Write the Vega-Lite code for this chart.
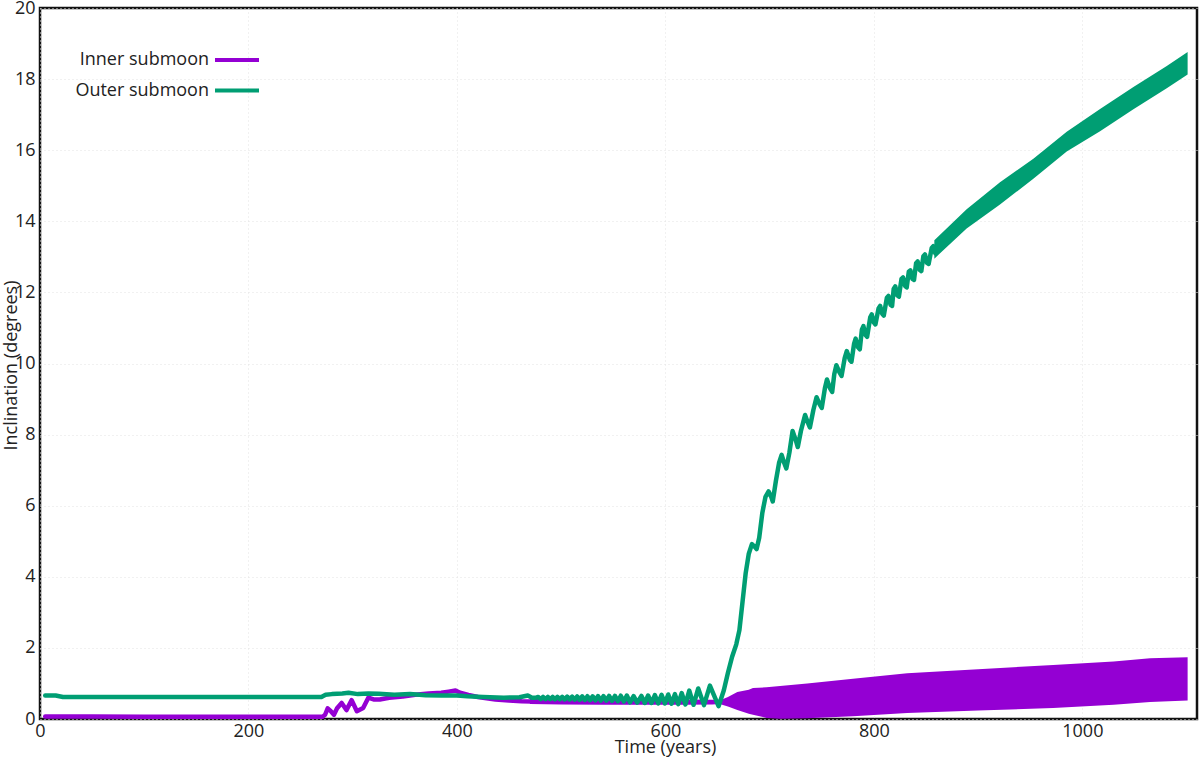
{
  "$schema": "https://vega.github.io/schema/vega-lite/v6.json",
  "width": 1157,
  "height": 711,
  "autosize": {"type": "none"},
  "padding": {"left": 40, "top": 8, "right": 3, "bottom": 42},
  "background": "white",
  "config": {
    "view": {"stroke": "#111111", "strokeWidth": 2.5},
    "font": "Open Sans",
    "axis": {
      "domain": false,
      "ticks": false,
      "grid": true,
      "gridColor": "#e2e2e2",
      "gridDash": [1, 3],
      "gridWidth": 1,
      "labelFont": "Open Sans",
      "labelFontSize": 18,
      "labelColor": "#222222",
      "titleFont": "Open Sans",
      "titleFontSize": 18,
      "titleColor": "#222222",
      "titleFontWeight": "normal"
    },
    "legend": {
      "title": null,
      "orient": "none",
      "legendX": 185,
      "legendY": 40,
      "padding": 0,
      "symbolType": "M-2.2,0L2.2,0",
      "symbolSize": 400,
      "symbolStrokeWidth": 4,
      "labelAlign": "right",
      "labelOffset": -40,
      "labelFont": "Open Sans",
      "labelFontSize": 18,
      "labelColor": "#222222",
      "labelLimit": 300,
      "rowPadding": 9.5
    }
  },
  "datasets": {
    "bands": [
      {"s": "Inner submoon", "t": 470, "lo": 0.42, "hi": 0.58},
      {"s": "Inner submoon", "t": 500, "lo": 0.41, "hi": 0.57},
      {"s": "Inner submoon", "t": 540, "lo": 0.40, "hi": 0.56},
      {"s": "Inner submoon", "t": 580, "lo": 0.40, "hi": 0.55},
      {"s": "Inner submoon", "t": 620, "lo": 0.40, "hi": 0.55},
      {"s": "Inner submoon", "t": 645, "lo": 0.41, "hi": 0.54},
      {"s": "Inner submoon", "t": 652, "lo": 0.42, "hi": 0.52},
      {"s": "Inner submoon", "t": 660, "lo": 0.35, "hi": 0.62},
      {"s": "Inner submoon", "t": 669, "lo": 0.25, "hi": 0.76},
      {"s": "Inner submoon", "t": 680, "lo": 0.15, "hi": 0.82},
      {"s": "Inner submoon", "t": 684, "lo": 0.12, "hi": 0.87},
      {"s": "Inner submoon", "t": 697, "lo": 0.03, "hi": 0.89},
      {"s": "Inner submoon", "t": 710, "lo": 0.01, "hi": 0.93},
      {"s": "Inner submoon", "t": 736, "lo": 0.02, "hi": 1.00},
      {"s": "Inner submoon", "t": 780, "lo": 0.08, "hi": 1.13},
      {"s": "Inner submoon", "t": 832, "lo": 0.17, "hi": 1.29},
      {"s": "Inner submoon", "t": 900, "lo": 0.24, "hi": 1.40},
      {"s": "Inner submoon", "t": 972, "lo": 0.31, "hi": 1.52},
      {"s": "Inner submoon", "t": 1030, "lo": 0.40, "hi": 1.62},
      {"s": "Inner submoon", "t": 1065, "lo": 0.48, "hi": 1.71},
      {"s": "Inner submoon", "t": 1101, "lo": 0.52, "hi": 1.74},
      {"s": "Outer submoon", "t": 858, "lo": 12.95, "hi": 13.47},
      {"s": "Outer submoon", "t": 889, "lo": 13.8, "hi": 14.34},
      {"s": "Outer submoon", "t": 921, "lo": 14.47, "hi": 15.1},
      {"s": "Outer submoon", "t": 953, "lo": 15.2, "hi": 15.76},
      {"s": "Outer submoon", "t": 985, "lo": 15.96, "hi": 16.52},
      {"s": "Outer submoon", "t": 1017, "lo": 16.53, "hi": 17.16},
      {"s": "Outer submoon", "t": 1049, "lo": 17.15, "hi": 17.78},
      {"s": "Outer submoon", "t": 1081, "lo": 17.74, "hi": 18.37},
      {"s": "Outer submoon", "t": 1101, "lo": 18.13, "hi": 18.76}
    ],
    "lines": [
      {"s": "Inner submoon", "t": 5, "v": 0.07},
      {"s": "Inner submoon", "t": 50, "v": 0.07},
      {"s": "Inner submoon", "t": 100, "v": 0.065},
      {"s": "Inner submoon", "t": 150, "v": 0.06},
      {"s": "Inner submoon", "t": 200, "v": 0.06},
      {"s": "Inner submoon", "t": 250, "v": 0.06},
      {"s": "Inner submoon", "t": 271, "v": 0.06},
      {"s": "Inner submoon", "t": 273.5, "v": 0.12},
      {"s": "Inner submoon", "t": 276, "v": 0.30},
      {"s": "Inner submoon", "t": 279, "v": 0.22},
      {"s": "Inner submoon", "t": 282, "v": 0.12},
      {"s": "Inner submoon", "t": 285, "v": 0.30},
      {"s": "Inner submoon", "t": 289.4, "v": 0.45},
      {"s": "Inner submoon", "t": 294, "v": 0.25},
      {"s": "Inner submoon", "t": 299, "v": 0.53},
      {"s": "Inner submoon", "t": 304, "v": 0.22},
      {"s": "Inner submoon", "t": 310, "v": 0.31},
      {"s": "Inner submoon", "t": 315, "v": 0.60},
      {"s": "Inner submoon", "t": 320, "v": 0.55},
      {"s": "Inner submoon", "t": 326, "v": 0.55},
      {"s": "Inner submoon", "t": 335, "v": 0.60},
      {"s": "Inner submoon", "t": 348, "v": 0.63},
      {"s": "Inner submoon", "t": 360, "v": 0.68},
      {"s": "Inner submoon", "t": 373, "v": 0.72},
      {"s": "Inner submoon", "t": 385, "v": 0.74},
      {"s": "Inner submoon", "t": 392, "v": 0.77},
      {"s": "Inner submoon", "t": 398.6, "v": 0.80},
      {"s": "Inner submoon", "t": 403, "v": 0.74},
      {"s": "Inner submoon", "t": 411, "v": 0.68},
      {"s": "Inner submoon", "t": 420, "v": 0.62},
      {"s": "Inner submoon", "t": 437, "v": 0.55},
      {"s": "Inner submoon", "t": 450, "v": 0.52},
      {"s": "Inner submoon", "t": 462, "v": 0.50},
      {"s": "Inner submoon", "t": 472, "v": 0.49},
      {"s": "Outer submoon", "t": 5, "v": 0.66},
      {"s": "Outer submoon", "t": 15, "v": 0.66},
      {"s": "Outer submoon", "t": 22, "v": 0.62},
      {"s": "Outer submoon", "t": 100, "v": 0.62},
      {"s": "Outer submoon", "t": 200, "v": 0.62},
      {"s": "Outer submoon", "t": 270, "v": 0.62},
      {"s": "Outer submoon", "t": 274, "v": 0.68},
      {"s": "Outer submoon", "t": 280, "v": 0.70},
      {"s": "Outer submoon", "t": 290, "v": 0.72},
      {"s": "Outer submoon", "t": 296, "v": 0.74},
      {"s": "Outer submoon", "t": 305, "v": 0.70},
      {"s": "Outer submoon", "t": 315, "v": 0.72},
      {"s": "Outer submoon", "t": 325, "v": 0.71},
      {"s": "Outer submoon", "t": 340, "v": 0.68},
      {"s": "Outer submoon", "t": 355, "v": 0.70},
      {"s": "Outer submoon", "t": 370, "v": 0.67},
      {"s": "Outer submoon", "t": 385, "v": 0.66},
      {"s": "Outer submoon", "t": 400, "v": 0.66},
      {"s": "Outer submoon", "t": 410, "v": 0.64},
      {"s": "Outer submoon", "t": 425, "v": 0.62},
      {"s": "Outer submoon", "t": 445, "v": 0.60},
      {"s": "Outer submoon", "t": 460, "v": 0.61},
      {"s": "Outer submoon", "t": 468, "v": 0.66},
      {"s": "Outer submoon", "t": 472, "v": 0.60},
      {"s": "Outer submoon", "t": 476, "v": 0.60},
      {"s": "Outer submoon", "t": 478, "v": 0.62},
      {"s": "Outer submoon", "t": 480.3, "v": 0.56},
      {"s": "Outer submoon", "t": 482.6, "v": 0.62},
      {"s": "Outer submoon", "t": 484.9, "v": 0.56},
      {"s": "Outer submoon", "t": 487.2, "v": 0.62},
      {"s": "Outer submoon", "t": 489.5, "v": 0.56},
      {"s": "Outer submoon", "t": 491.8, "v": 0.62},
      {"s": "Outer submoon", "t": 494.1, "v": 0.555},
      {"s": "Outer submoon", "t": 496.4, "v": 0.625},
      {"s": "Outer submoon", "t": 498.7, "v": 0.555},
      {"s": "Outer submoon", "t": 501, "v": 0.625},
      {"s": "Outer submoon", "t": 503.4, "v": 0.55},
      {"s": "Outer submoon", "t": 505.8, "v": 0.63},
      {"s": "Outer submoon", "t": 508.2, "v": 0.55},
      {"s": "Outer submoon", "t": 510.6, "v": 0.63},
      {"s": "Outer submoon", "t": 513, "v": 0.545},
      {"s": "Outer submoon", "t": 515.4, "v": 0.635},
      {"s": "Outer submoon", "t": 517.8, "v": 0.54},
      {"s": "Outer submoon", "t": 520.2, "v": 0.635},
      {"s": "Outer submoon", "t": 522.7, "v": 0.535},
      {"s": "Outer submoon", "t": 525.2, "v": 0.64},
      {"s": "Outer submoon", "t": 527.7, "v": 0.53},
      {"s": "Outer submoon", "t": 530.2, "v": 0.64},
      {"s": "Outer submoon", "t": 532.8, "v": 0.525},
      {"s": "Outer submoon", "t": 535.4, "v": 0.645},
      {"s": "Outer submoon", "t": 538, "v": 0.52},
      {"s": "Outer submoon", "t": 540.6, "v": 0.645},
      {"s": "Outer submoon", "t": 543.3, "v": 0.515},
      {"s": "Outer submoon", "t": 546, "v": 0.65},
      {"s": "Outer submoon", "t": 548.8, "v": 0.51},
      {"s": "Outer submoon", "t": 551.6, "v": 0.65},
      {"s": "Outer submoon", "t": 554.4, "v": 0.50},
      {"s": "Outer submoon", "t": 557.2, "v": 0.655},
      {"s": "Outer submoon", "t": 560.1, "v": 0.49},
      {"s": "Outer submoon", "t": 563, "v": 0.66},
      {"s": "Outer submoon", "t": 566, "v": 0.47},
      {"s": "Outer submoon", "t": 569.5, "v": 0.645},
      {"s": "Outer submoon", "t": 573, "v": 0.46},
      {"s": "Outer submoon", "t": 577, "v": 0.65},
      {"s": "Outer submoon", "t": 580.2, "v": 0.45},
      {"s": "Outer submoon", "t": 583.4, "v": 0.66},
      {"s": "Outer submoon", "t": 586.6, "v": 0.45},
      {"s": "Outer submoon", "t": 589.9, "v": 0.67},
      {"s": "Outer submoon", "t": 593.1, "v": 0.44},
      {"s": "Outer submoon", "t": 596.3, "v": 0.68},
      {"s": "Outer submoon", "t": 599.5, "v": 0.44},
      {"s": "Outer submoon", "t": 602.7, "v": 0.69},
      {"s": "Outer submoon", "t": 605.9, "v": 0.43},
      {"s": "Outer submoon", "t": 609.1, "v": 0.70},
      {"s": "Outer submoon", "t": 612.3, "v": 0.42},
      {"s": "Outer submoon", "t": 615.6, "v": 0.73},
      {"s": "Outer submoon", "t": 619.2, "v": 0.41},
      {"s": "Outer submoon", "t": 622.9, "v": 0.80},
      {"s": "Outer submoon", "t": 627, "v": 0.40},
      {"s": "Outer submoon", "t": 631.5, "v": 0.86},
      {"s": "Outer submoon", "t": 637, "v": 0.39},
      {"s": "Outer submoon", "t": 642.7, "v": 0.94},
      {"s": "Outer submoon", "t": 651, "v": 0.36},
      {"s": "Outer submoon", "t": 656, "v": 0.80},
      {"s": "Outer submoon", "t": 660, "v": 1.30},
      {"s": "Outer submoon", "t": 664, "v": 1.75},
      {"s": "Outer submoon", "t": 668, "v": 2.10},
      {"s": "Outer submoon", "t": 671, "v": 2.50},
      {"s": "Outer submoon", "t": 674, "v": 3.30},
      {"s": "Outer submoon", "t": 677, "v": 4.10},
      {"s": "Outer submoon", "t": 680, "v": 4.65},
      {"s": "Outer submoon", "t": 683, "v": 4.92},
      {"s": "Outer submoon", "t": 685.5, "v": 4.85},
      {"s": "Outer submoon", "t": 687.5, "v": 4.78},
      {"s": "Outer submoon", "t": 690, "v": 5.10},
      {"s": "Outer submoon", "t": 693, "v": 5.80},
      {"s": "Outer submoon", "t": 696, "v": 6.25},
      {"s": "Outer submoon", "t": 699, "v": 6.40},
      {"s": "Outer submoon", "t": 701.5, "v": 6.25},
      {"s": "Outer submoon", "t": 703, "v": 6.12},
      {"s": "Outer submoon", "t": 706, "v": 6.70},
      {"s": "Outer submoon", "t": 709, "v": 7.20},
      {"s": "Outer submoon", "t": 711.5, "v": 7.43},
      {"s": "Outer submoon", "t": 714, "v": 7.20},
      {"s": "Outer submoon", "t": 716, "v": 7.05},
      {"s": "Outer submoon", "t": 719, "v": 7.50},
      {"s": "Outer submoon", "t": 722, "v": 8.10},
      {"s": "Outer submoon", "t": 725, "v": 7.85},
      {"s": "Outer submoon", "t": 727, "v": 7.65},
      {"s": "Outer submoon", "t": 730, "v": 8.10},
      {"s": "Outer submoon", "t": 734, "v": 8.55},
      {"s": "Outer submoon", "t": 736.5, "v": 8.35},
      {"s": "Outer submoon", "t": 738.6, "v": 8.20},
      {"s": "Outer submoon", "t": 742, "v": 8.70},
      {"s": "Outer submoon", "t": 745, "v": 9.05},
      {"s": "Outer submoon", "t": 748, "v": 8.85},
      {"s": "Outer submoon", "t": 750, "v": 8.75},
      {"s": "Outer submoon", "t": 753, "v": 9.30},
      {"s": "Outer submoon", "t": 755, "v": 9.55},
      {"s": "Outer submoon", "t": 758, "v": 9.30},
      {"s": "Outer submoon", "t": 760, "v": 9.20},
      {"s": "Outer submoon", "t": 762, "v": 9.70},
      {"s": "Outer submoon", "t": 764, "v": 9.95},
      {"s": "Outer submoon", "t": 767, "v": 9.75},
      {"s": "Outer submoon", "t": 769, "v": 9.65},
      {"s": "Outer submoon", "t": 772, "v": 10.15},
      {"s": "Outer submoon", "t": 774, "v": 10.35},
      {"s": "Outer submoon", "t": 777, "v": 10.10},
      {"s": "Outer submoon", "t": 778.5, "v": 10.05},
      {"s": "Outer submoon", "t": 781, "v": 10.55},
      {"s": "Outer submoon", "t": 782.5, "v": 10.70},
      {"s": "Outer submoon", "t": 785, "v": 10.45},
      {"s": "Outer submoon", "t": 786.5, "v": 10.40},
      {"s": "Outer submoon", "t": 788.5, "v": 10.95},
      {"s": "Outer submoon", "t": 790, "v": 11.05},
      {"s": "Outer submoon", "t": 792, "v": 10.80},
      {"s": "Outer submoon", "t": 793.5, "v": 10.75},
      {"s": "Outer submoon", "t": 796.5, "v": 11.30},
      {"s": "Outer submoon", "t": 798, "v": 11.38},
      {"s": "Outer submoon", "t": 800, "v": 11.15},
      {"s": "Outer submoon", "t": 801.5, "v": 11.10},
      {"s": "Outer submoon", "t": 804.5, "v": 11.55},
      {"s": "Outer submoon", "t": 806, "v": 11.62},
      {"s": "Outer submoon", "t": 808, "v": 11.40},
      {"s": "Outer submoon", "t": 809.5, "v": 11.35},
      {"s": "Outer submoon", "t": 812.5, "v": 11.85},
      {"s": "Outer submoon", "t": 814, "v": 11.90},
      {"s": "Outer submoon", "t": 816, "v": 11.65},
      {"s": "Outer submoon", "t": 817.5, "v": 11.62},
      {"s": "Outer submoon", "t": 819, "v": 12.10},
      {"s": "Outer submoon", "t": 820.5, "v": 12.17},
      {"s": "Outer submoon", "t": 822.5, "v": 11.92},
      {"s": "Outer submoon", "t": 824, "v": 11.88},
      {"s": "Outer submoon", "t": 826.5, "v": 12.38},
      {"s": "Outer submoon", "t": 828, "v": 12.42},
      {"s": "Outer submoon", "t": 830, "v": 12.18},
      {"s": "Outer submoon", "t": 831.5, "v": 12.14},
      {"s": "Outer submoon", "t": 833.5, "v": 12.58},
      {"s": "Outer submoon", "t": 835, "v": 12.62},
      {"s": "Outer submoon", "t": 837, "v": 12.38},
      {"s": "Outer submoon", "t": 838.5, "v": 12.35},
      {"s": "Outer submoon", "t": 840.5, "v": 12.82},
      {"s": "Outer submoon", "t": 842, "v": 12.87},
      {"s": "Outer submoon", "t": 844, "v": 12.63},
      {"s": "Outer submoon", "t": 845.5, "v": 12.60},
      {"s": "Outer submoon", "t": 847.5, "v": 13.02},
      {"s": "Outer submoon", "t": 849, "v": 13.07},
      {"s": "Outer submoon", "t": 851, "v": 12.83},
      {"s": "Outer submoon", "t": 852.5, "v": 12.80},
      {"s": "Outer submoon", "t": 855.5, "v": 13.25},
      {"s": "Outer submoon", "t": 857, "v": 13.30},
      {"s": "Outer submoon", "t": 859, "v": 13.10},
      {"s": "Outer submoon", "t": 861, "v": 13.15}
    ]
  },
  "layer": [
    {
      "data": {"name": "bands"},
      "mark": {"type": "area", "opacity": 1},
      "encoding": {
        "x": {
          "field": "t", "type": "quantitative",
          "scale": {"domain": [0, 1110], "nice": false, "zero": false},
          "axis": {
            "title": "Time (years)",
            "values": [0, 200, 400, 600, 800, 1000],
            "format": "d",
            "labelPadding": 3,
            "labelFlush": false,
            "titleX": 625,
            "titleY": 28,
            "titleBaseline": "middle",
            "titleAnchor": "start",
            "titleAlign": "center"
          }
        },
        "y": {
          "field": "lo", "type": "quantitative",
          "scale": {"domain": [0, 20], "nice": false},
          "axis": {
            "title": "Inclination (degrees)",
            "values": [0, 2, 4, 6, 8, 10, 12, 14, 16, 18, 20],
            "labelPadding": 5,
            "labelFlush": false,
            "titleX": -29,
            "titleY": 357,
            "titleAngle": -90,
            "titleBaseline": "middle",
            "titleAlign": "center"
          }
        },
        "y2": {"field": "hi"},
        "color": {
          "field": "s", "type": "nominal",
          "scale": {"domain": ["Inner submoon", "Outer submoon"], "range": ["#9400d3", "#009e73"]}
        }
      }
    },
    {
      "data": {"name": "lines"},
      "mark": {"type": "line", "strokeWidth": 4.5, "strokeJoin": "round", "strokeCap": "round"},
      "encoding": {
        "x": {"field": "t", "type": "quantitative"},
        "y": {"field": "v", "type": "quantitative"},
        "color": {"field": "s", "type": "nominal"}
      }
    }
  ]
}
